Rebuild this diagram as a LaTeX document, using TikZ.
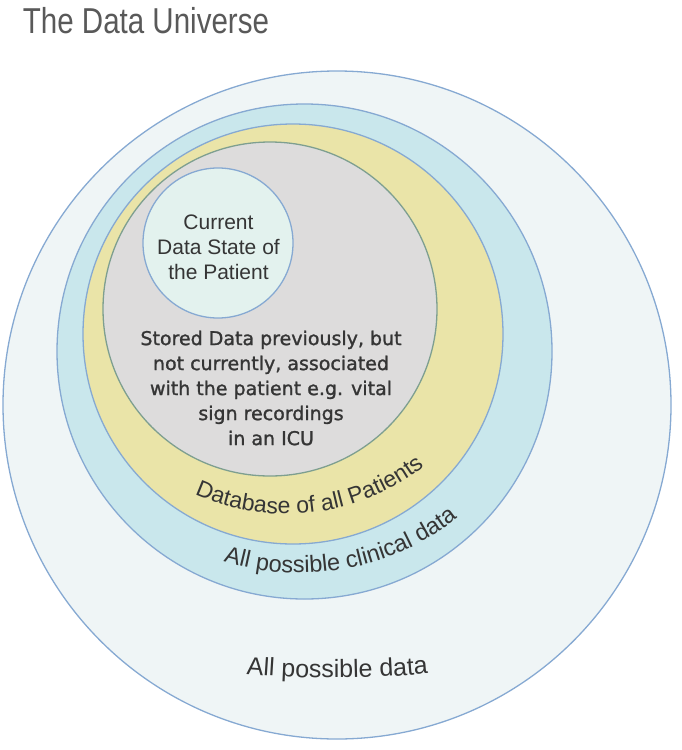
\documentclass[tikz,border=0pt]{standalone}
\usepackage{fontspec}
\setmainfont{Liberation Sans}
\newfontfamily\storedfont{DejaVu Sans}[BoldFont={DejaVu Sans}, BoldFeatures={FakeBold=1.3}]
\usepackage{tikz}
\usetikzlibrary{decorations.text}

\definecolor{ringline}{HTML}{86A9D2}
\definecolor{grayline}{HTML}{7E9F90}
\definecolor{outerfill}{HTML}{EFF5F6}
\definecolor{clinfill}{HTML}{C9E7EC}
\definecolor{dbfill}{HTML}{EAE4A8}
\definecolor{storefill}{HTML}{DDDCDC}
\definecolor{nowfill}{HTML}{E3F2EE}
\definecolor{titlegray}{HTML}{595959}
\definecolor{labeltext}{HTML}{353535}

\newcommand\arcfont[1]{\fontsize{#1}{#1}\selectfont\color{labeltext}}

\tikzset{
  ring/.style={circle, draw=ringline, line width=1.3pt, inner sep=0pt},
  arclabel/.style={decorate, decoration={text along path, text align=center,
      text format delimiters={|}{|}, text={#1}}}
}

\begin{document}
\begin{tikzpicture}[x=1pt, y=1pt]
\useasboundingbox (0,0) rectangle (681,-750);

\node[anchor=base west, text=titlegray, font=\fontsize{36}{40}\selectfont,
      xscale=0.82, transform shape] (title) at (20,-33) {The Data Universe};

% nested sets
\node[ring, fill=outerfill, minimum size=668pt] (alldata) at (337,-405) {};
\node[ring, fill=clinfill, minimum size=495pt] (clinical) at (304.5,-351.5) {};
\node[ring, fill=dbfill, minimum size=420pt] (database) at (293,-334) {};
\node[ring, draw=grayline, fill=storefill, minimum size=334pt] (stored) at (270,-309) {};
\node[ring, fill=nowfill, minimum size=150pt] (current) at (218,-243) {};

\node[align=center, text=labeltext, font=\fontsize{21}{25}\selectfont]
  (currenttext) at (218.5,-247) {Current\\Data State of\\the Patient};
\node[align=center, text=labeltext, font=\storedfont\bfseries\fontsize{19}{25}\selectfont]
  (storedtext) at (271,-388) {Stored Data previously, but\\not currently, associated\\with the patient e.g. vital\\sign recordings\\in an ICU};

% curved labels
\path[arclabel={|\arcfont{23}|Database of all Patients}]
  (286,-290) ++(232:224) arc[start angle=232, end angle=322, radius=224];
\path[arclabel={|\arcfont{23.5}|All possible clinical data}]
  (300,-320) ++(245:253) arc[start angle=245, end angle=316, radius=253];
\path[arclabel={|\arcfont{25}|All possible data}]
  (333,322) ++(262:1000) arc[start angle=262, end angle=278.5, radius=1000];
\end{tikzpicture}
\end{document}
